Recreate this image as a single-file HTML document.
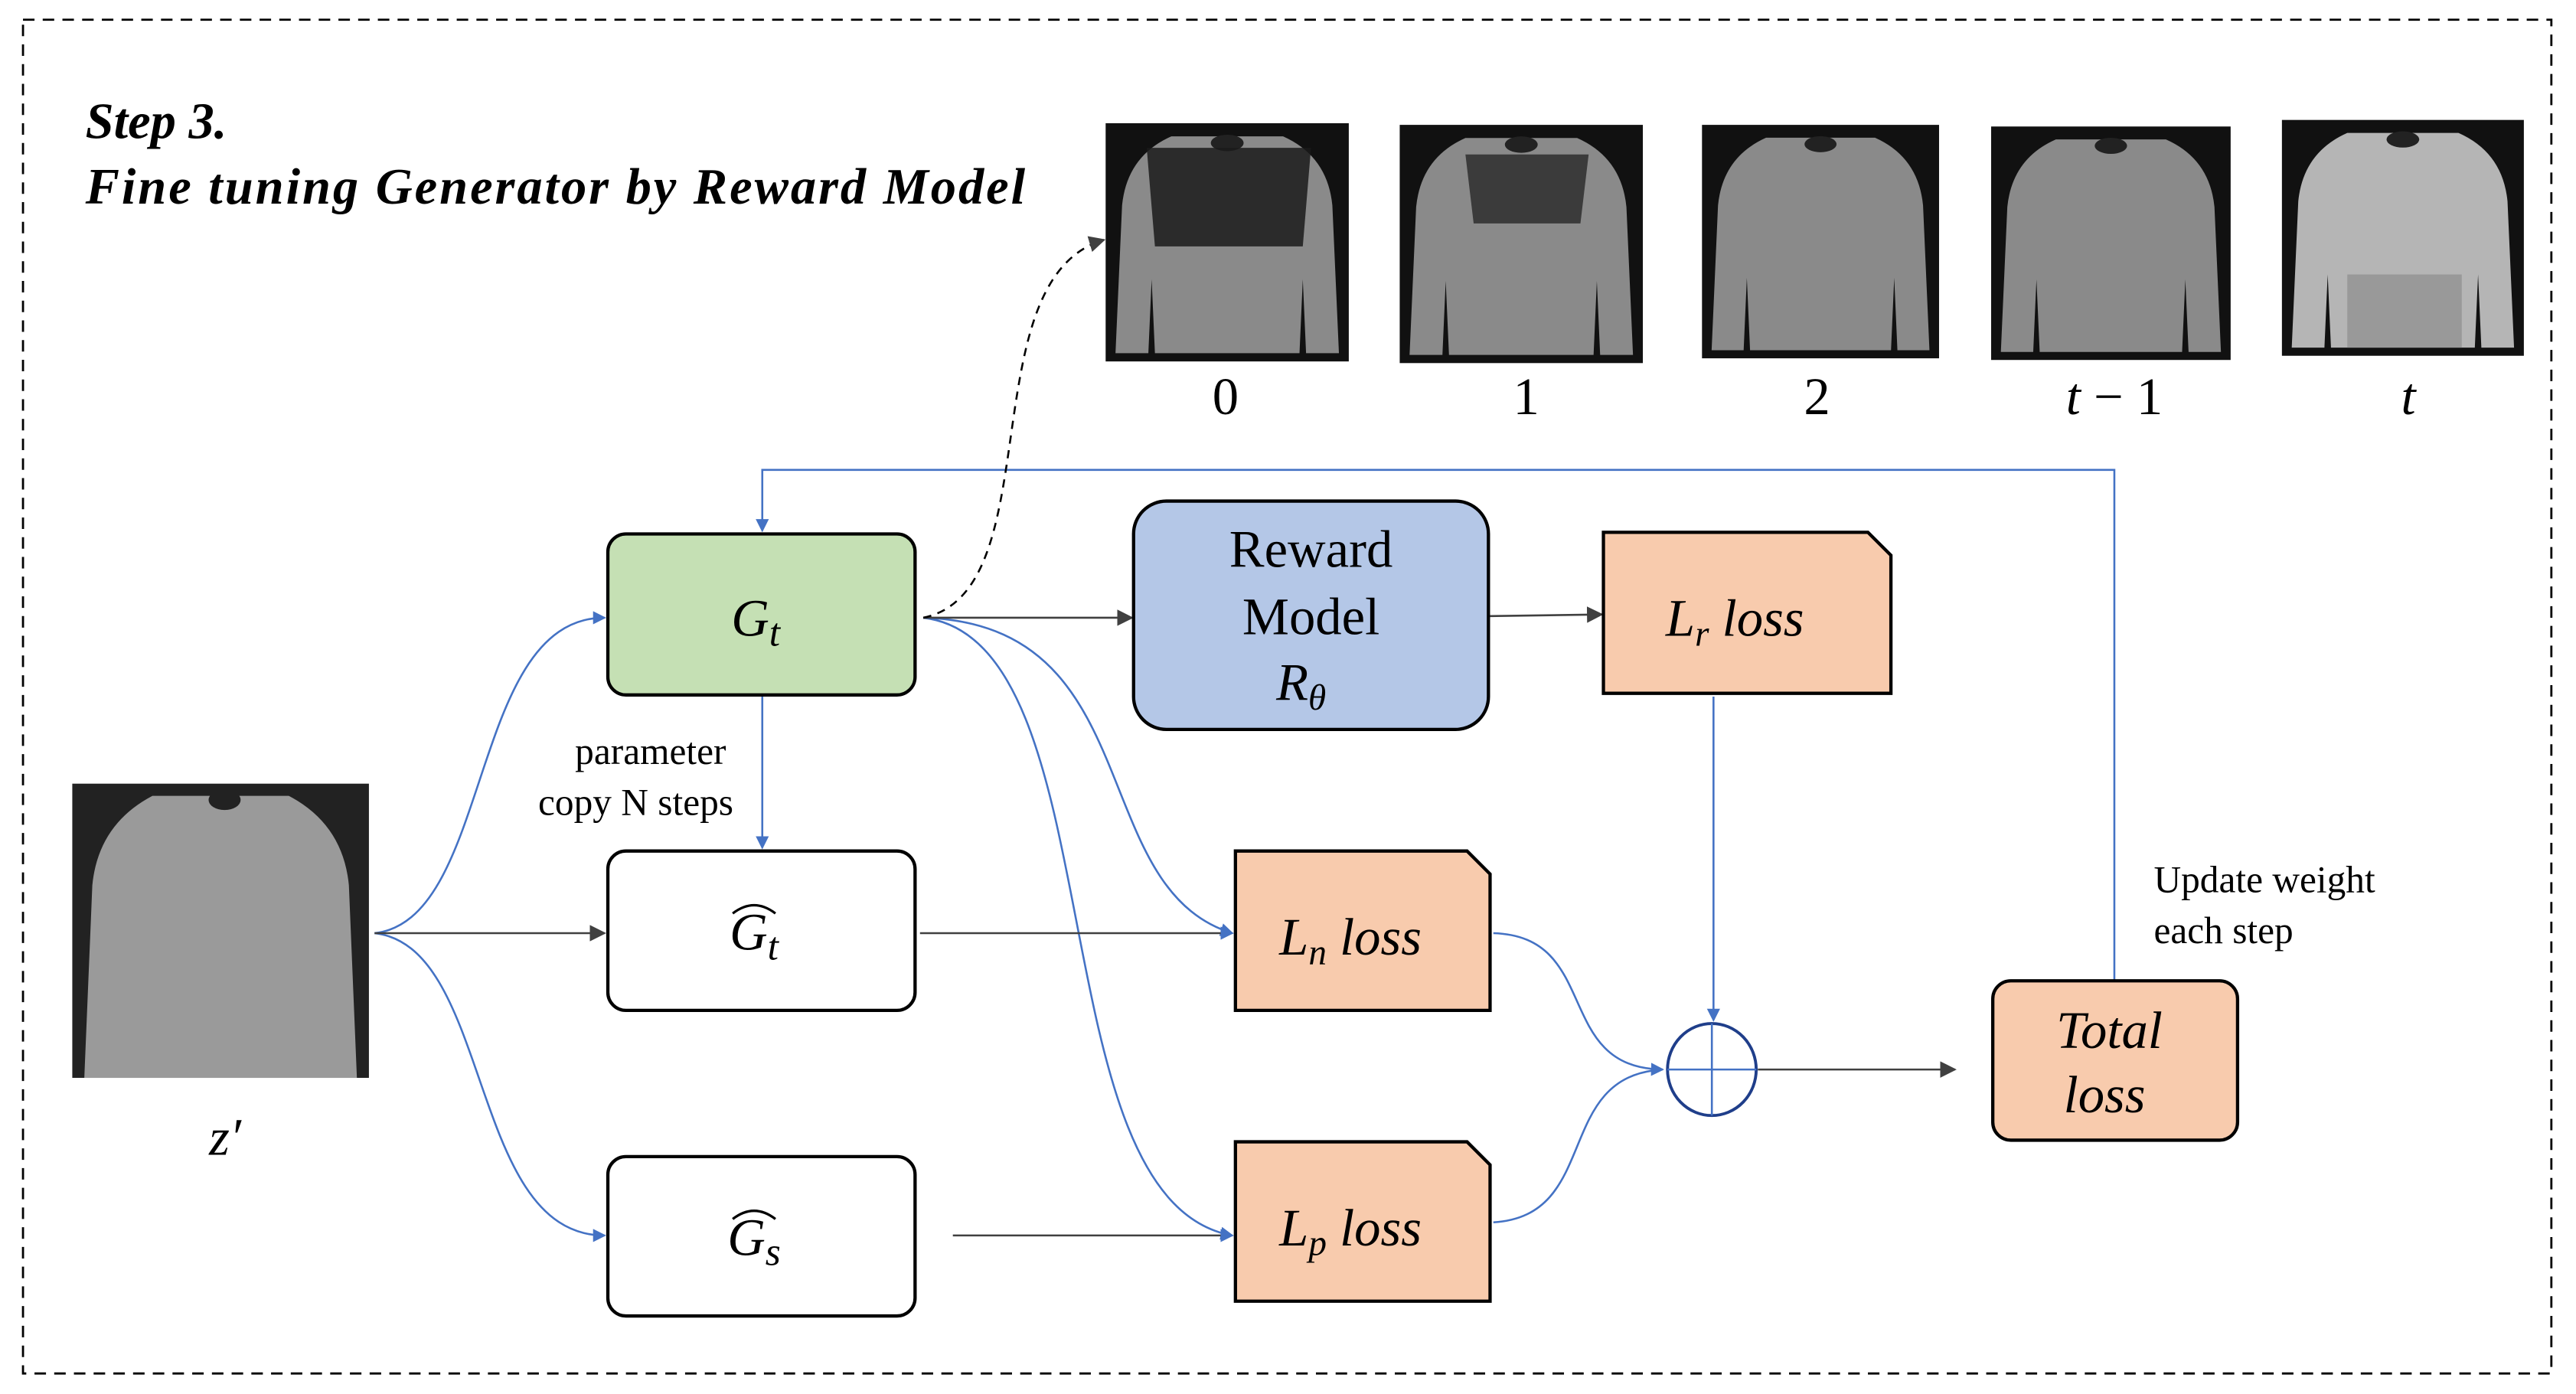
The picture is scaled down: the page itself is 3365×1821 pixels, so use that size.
<!DOCTYPE html>
<html><head><meta charset="utf-8"><style>
html,body{margin:0;padding:0;background:#fff;}
svg{display:block}
</style></head><body>
<svg width="3365" height="1821" viewBox="0 0 1568 848.5" preserveAspectRatio="none" xmlns="http://www.w3.org/2000/svg" font-family="'Liberation Serif', serif">
<defs>
<marker id="ab" markerWidth="8" markerHeight="8" refX="7" refY="4" orient="auto" markerUnits="userSpaceOnUse"><path d="M0,0 L8,4 L0,8 z" fill="#4472c4"/></marker>
<marker id="ak" markerWidth="10" markerHeight="10" refX="9" refY="5" orient="auto" markerUnits="userSpaceOnUse"><path d="M0,0 L10,5 L0,10 z" fill="#404040"/></marker>
<g id="sw">
<rect x="0" y="0" width="148" height="145" fill="#111"/>
<path d="M40,8 L108,8 Q135,20 138,50 L142,140 L122,140 L120,95 L118,140 L30,140 L28,95 L26,140 L6,140 L10,50 Q13,20 40,8 z" fill="#8a8a8a"/>
<ellipse cx="74" cy="12" rx="10" ry="5" fill="#222"/>
</g>
</defs>
<rect x="0" y="0" width="1568" height="848.5" fill="#fff"/>
<rect x="14" y="12" width="1539" height="824" fill="none" stroke="#000" stroke-width="1.3" stroke-dasharray="7,5"/>
<text x="52" y="84" font-family="'Liberation Serif', serif" font-size="31" font-weight="bold" font-style="italic">Step 3.</text>
<text x="52" y="124" font-family="'Liberation Serif', serif" font-size="31" font-weight="bold" font-style="italic" textLength="572">Fine tuning Generator by Reward Model</text>

<g transform="translate(673,75)"><use href="#sw"/><path d="M25,15 L125,15 L120,75 L30,75z" fill="#1a1a1a" opacity="0.85"/></g>
<g transform="translate(852,76)"><use href="#sw"/><path d="M40,18 L115,18 L110,60 L45,60z" fill="#1a1a1a" opacity="0.7"/></g>
<g transform="translate(1036,76) scale(0.975,0.98)"><use href="#sw"/></g>
<g transform="translate(1212,77) scale(0.985,0.98)"><use href="#sw"/></g>
<g transform="translate(1389,73) scale(0.995,0.99)"><rect width="148" height="145" fill="#111"/><path d="M40,8 L108,8 Q135,20 138,50 L142,140 L122,140 L120,95 L118,140 L30,140 L28,95 L26,140 L6,140 L10,50 Q13,20 40,8 z" fill="#b5b5b5"/><rect x="40" y="95" width="70" height="45" fill="#999"/><ellipse cx="74" cy="12" rx="10" ry="5" fill="#222"/></g>
<g font-size="32" text-anchor="middle">
<text x="746" y="252">0</text>
<text x="929" y="252">1</text>
<text x="1106" y="252">2</text>
<text x="1287" y="252"><tspan font-style="italic">t</tspan> − 1</text>
<text x="1466" y="252" font-style="italic">t</text>
</g>

<g transform="translate(44,477) scale(1.22,1.235)"><rect width="148" height="145" fill="#222"/><path d="M40,6 L108,6 Q135,20 138,50 L142,145 L6,145 L10,50 Q13,20 40,6 z" fill="#9a9a9a"/><ellipse cx="76" cy="8" rx="8" ry="5" fill="#222"/></g>
<text x="137" y="703" text-anchor="middle" font-size="32" font-style="italic">z′</text>

<g fill="none" stroke="#4472c4" stroke-width="1.2">
<path d="M1287,597 L1287,286 L464,286 L464,323" marker-end="url(#ab)"/>
<path d="M464,423 L464,516" marker-end="url(#ab)"/>
<path d="M228,568 C300,560 285,376 368,376" marker-end="url(#ab)"/>
<path d="M228,568 C300,576 285,752 368,752" marker-end="url(#ab)"/>
<path d="M562,376 C700,380 660,540 750,568" marker-end="url(#ab)"/>
<path d="M562,376 C680,390 630,730 750,752" marker-end="url(#ab)"/>
<path d="M1043,424 L1043,621" marker-end="url(#ab)"/>
<path d="M909,568 C975,570 945,650 1012,651" marker-end="url(#ab)"/>
<path d="M909,744 C975,740 945,655 1012,651"/>
<path d="M560,568 L750,568" stroke="#404040" marker-end="url(#ab)"/>
<path d="M580,752 L750,752" stroke="#404040" marker-end="url(#ab)"/>
</g>
<g fill="none" stroke="#404040" stroke-width="1.2">
<path d="M228,568 L368,568" marker-end="url(#ak)"/>
<path d="M562,376 L689,376" marker-end="url(#ak)"/>
<path d="M907,375 L975,374" marker-end="url(#ak)"/>
<path d="M1070,651 L1190,651" marker-end="url(#ak)"/>
<path d="M562,376 C640,360 590,170 672,146" stroke="#000" stroke-dasharray="5,4" marker-end="url(#ak)"/>
</g>

<g font-size="32">
<rect x="370" y="325" width="187" height="98" rx="11" fill="#c5e0b4" stroke="#000" stroke-width="2"/>
<text x="460" y="387" text-anchor="middle" font-style="italic">G<tspan font-size="24" dy="6">t</tspan></text>
<text x="396" y="465" text-anchor="middle" font-size="23">parameter</text>
<text x="387" y="496" text-anchor="middle" font-size="23">copy N steps</text>

<rect x="690" y="305" width="216" height="139" rx="20" fill="#b4c7e7" stroke="#000" stroke-width="2"/>
<text x="798" y="345" text-anchor="middle">Reward</text>
<text x="798" y="386" text-anchor="middle">Model</text>
<text x="792" y="426" text-anchor="middle" font-style="italic">R<tspan font-size="22" dy="6">θ</tspan></text>

<path d="M976,324 L1137,324 L1151,338 L1151,422 L976,422 z" fill="#f8cbad" stroke="#000" stroke-width="2"/>
<text x="1056" y="387" text-anchor="middle" font-style="italic">L<tspan font-size="22" dy="6">r</tspan><tspan dy="-6"> loss</tspan></text>

<rect x="370" y="518" width="187" height="97" rx="11" fill="#fff" stroke="#000" stroke-width="2"/>
<text x="459" y="578" text-anchor="middle" font-style="italic">G<tspan font-size="24" dy="6">t</tspan></text>
<path d="M446,556 Q459,546 472,556" fill="none" stroke="#000" stroke-width="1.5"/>

<rect x="370" y="704" width="187" height="97" rx="11" fill="#fff" stroke="#000" stroke-width="2"/>
<text x="459" y="764" text-anchor="middle" font-style="italic">G<tspan font-size="24" dy="6">s</tspan></text>
<path d="M446,742 Q459,732 472,742" fill="none" stroke="#000" stroke-width="1.5"/>

<path d="M752,518 L893,518 L907,532 L907,615 L752,615 z" fill="#f8cbad" stroke="#000" stroke-width="2"/>
<text x="822" y="581" text-anchor="middle" font-style="italic">L<tspan font-size="22" dy="6">n</tspan><tspan dy="-6"> loss</tspan></text>

<path d="M752,695 L893,695 L907,709 L907,792 L752,792 z" fill="#f8cbad" stroke="#000" stroke-width="2"/>
<text x="822" y="758" text-anchor="middle" font-style="italic">L<tspan font-size="22" dy="6">p</tspan><tspan dy="-6"> loss</tspan></text>

<ellipse cx="1042" cy="651" rx="27" ry="28" fill="#fff" stroke="#1f3e8a" stroke-width="1.8"/>
<path d="M1015,651 L1069,651 M1042,623 L1042,679" stroke="#4472c4" stroke-width="1.2"/>

<rect x="1213" y="597" width="149" height="97" rx="11" fill="#f8cbad" stroke="#000" stroke-width="2"/>
<text x="1284" y="638" text-anchor="middle" font-style="italic">Total</text>
<text x="1281" y="677" text-anchor="middle" font-style="italic">loss</text>

<text x="1311" y="543" font-size="23">Update weight</text>
<text x="1311" y="574" font-size="23">each step</text>
</g>
</svg>
</body></html>
